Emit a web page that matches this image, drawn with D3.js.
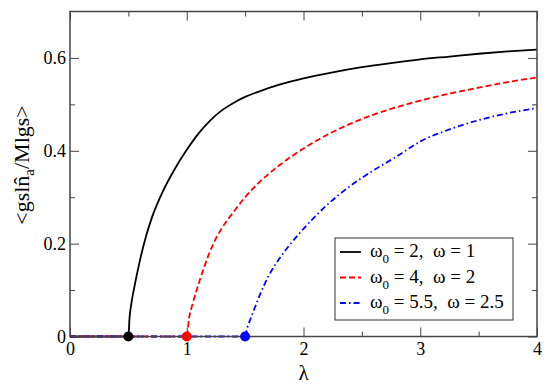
<!DOCTYPE html>
<html><head><meta charset="utf-8">
<script src="https://cdn.jsdelivr.net/npm/d3@7"></script>
<style>body{margin:0;background:#fff}svg{display:block}</style>
</head><body>
<script>
// ---- data ----
const lambdaBlack = [0, 0.5, 0.51, 0.525, 0.55, 0.6, 0.65, 0.7, 0.8, 0.9, 1.0, 1.1, 1.2, 1.3, 1.4, 1.5, 1.6, 1.8, 2.0, 2.25, 2.5, 2.75, 3.0, 3.25, 3.5, 3.75, 4.0];
const valueBlack  = [0, 0, 0.04, 0.07, 0.105, 0.165, 0.215, 0.255, 0.315, 0.362, 0.402, 0.437, 0.465, 0.487, 0.503, 0.516, 0.526, 0.543, 0.556, 0.569, 0.58, 0.589, 0.597, 0.603, 0.609, 0.614, 0.618];
const lambdaRed = [0, 1.0, 1.02, 1.05, 1.085, 1.15, 1.228, 1.3, 1.4, 1.5, 1.6, 1.8, 2.0, 2.2, 2.4, 2.6, 2.8, 3.0, 3.25, 3.5, 3.75, 4.0];
const valueRed  = [0, 0, 0.04, 0.07, 0.10, 0.15, 0.20, 0.233, 0.268, 0.30, 0.327, 0.37, 0.405, 0.434, 0.458, 0.478, 0.494, 0.508, 0.523, 0.536, 0.548, 0.558];
const lambdaBlue = [0, 1.5, 1.52, 1.542, 1.58, 1.627, 1.7, 1.8, 1.9, 2.0, 2.2, 2.4, 2.6, 2.8, 3.0, 3.25, 3.5, 3.75, 4.0];
const valueBlue  = [0, 0, 0.02, 0.035, 0.06, 0.09, 0.13, 0.17, 0.203, 0.232, 0.283, 0.324, 0.358, 0.388, 0.42, 0.446, 0.466, 0.481, 0.492];
const criticalLambda = [0.5, 1.0, 1.5];
const seriesNames = [["2", "1"], ["4", "2"], ["5.5", "2.5"]];
const xTicks = [0, 1, 2, 3, 4];
const yTicks = [0, 0.2, 0.4, 0.6];
const xMinor = [0.5, 1.5, 2.5, 3.5];
const yMinor = [0.1, 0.3, 0.5];

// ---- layout ----
const W = 550, H = 386;
const L = 70, R = 537, T = 11.5, B = 336.5;
const colors = ["#000000", "#ff0000", "#0000ff"];
const dashes = [null, "6,3", "6,3,1.5,3"];
const FONT = '"Liberation Serif"';

const svg = d3.select("body").append("svg").attr("width", W).attr("height", H);
const x = d3.scaleLinear().domain([0, 4]).range([L, R]);
const y = d3.scaleLinear().domain([0, 0.7]).range([B, T]);

const axisColor = "#444";
function styleAxis(g) {
  g.attr("font-family", null);
  g.select(".domain").remove();
  g.selectAll(".tick line").attr("stroke", axisColor).attr("stroke-width", 1);
  g.selectAll(".tick text").style("font-family", FONT).attr("font-size", 18).attr("fill", "#000");
}
svg.append("g").attr("transform", `translate(0,${B})`)
  .call(d3.axisBottom(x).tickValues(xTicks).tickSize(-9).tickPadding(6).tickFormat(d3.format("d")))
  .call(styleAxis);
svg.append("g").attr("transform", `translate(0,${B})`)
  .call(d3.axisBottom(x).tickValues(xMinor).tickSize(-5).tickFormat(""))
  .call(styleAxis);
svg.append("g").attr("transform", `translate(0,${T})`)
  .call(d3.axisTop(x).tickValues(xTicks).tickSize(-9).tickFormat(""))
  .call(styleAxis);
svg.append("g").attr("transform", `translate(0,${T})`)
  .call(d3.axisTop(x).tickValues(xMinor).tickSize(-5).tickFormat(""))
  .call(styleAxis);
svg.append("g").attr("transform", `translate(${L},0)`)
  .call(d3.axisLeft(y).tickValues(yTicks).tickSize(-9).tickPadding(4).tickFormat(d => d === 0 ? "0" : d3.format(".1f")(d)))
  .call(styleAxis);
svg.append("g").attr("transform", `translate(${L},0)`)
  .call(d3.axisLeft(y).tickValues(yMinor).tickSize(-5).tickFormat(""))
  .call(styleAxis);
svg.append("g").attr("transform", `translate(${R},0)`)
  .call(d3.axisRight(y).tickValues(yTicks).tickSize(-9).tickFormat(""))
  .call(styleAxis);
svg.append("g").attr("transform", `translate(${R},0)`)
  .call(d3.axisRight(y).tickValues(yMinor).tickSize(-5).tickFormat(""))
  .call(styleAxis);

// curves
const line = d3.line().x(d => x(d[0])).y(d => y(d[1])).curve(d3.curveMonotoneX);
const series = [
  d3.zip(lambdaBlack, valueBlack),
  d3.zip(lambdaRed, valueRed),
  d3.zip(lambdaBlue, valueBlue)
];
series.forEach((s, i) => {
  svg.append("path").datum(s).attr("d", line)
    .attr("fill", "none").attr("stroke", colors[i]).attr("stroke-width", 1.8)
    .attr("stroke-dasharray", dashes[i]);
});

// frame
svg.append("rect").attr("x", L).attr("y", T).attr("width", R - L).attr("height", B - T)
  .attr("fill", "none").attr("stroke", axisColor).attr("stroke-width", 1.5);

// critical dots
criticalLambda.forEach((c, i) => {
  svg.append("circle").attr("cx", x(c)).attr("cy", y(0)).attr("r", 5).attr("fill", colors[i]);
});

// legend
const lg = svg.append("g");
lg.append("rect").attr("x", 335).attr("y", 238).attr("width", 178).attr("height", 82)
  .attr("fill", "#fff").attr("stroke", "#333").attr("stroke-width", 1);
seriesNames.forEach((n, i) => {
  const yy = 252 + i * 25.5;
  lg.append("line").attr("x1", 340).attr("x2", 361).attr("y1", yy).attr("y2", yy)
    .attr("stroke", colors[i]).attr("stroke-width", 1.8).attr("stroke-dasharray", dashes[i]);
  const t = lg.append("text").attr("x", 370).attr("y", yy + 5).attr("font-size", 19).style("font-family", FONT);
  t.append("tspan").text("ω");
  t.append("tspan").attr("font-size", 13).attr("dy", 6).text("0");
  t.append("tspan").attr("dy", -6).text(` = ${n[0]},\u00a0\u00a0ω = ${n[1]}`);
});

// axis titles
svg.append("text").attr("x", x(2)).attr("y", 380).attr("text-anchor", "middle")
  .attr("font-size", 21).style("font-family", FONT).text("λ");
const yt = svg.append("text").attr("transform", `translate(29,165) rotate(-90)`)
  .attr("text-anchor", "middle").attr("font-size", 22).style("font-family", FONT);
yt.append("tspan").text("<gsl");
yt.append("tspan").text("n\u0302");
yt.append("tspan").attr("font-size", 15).attr("dy", 5).text("a");
yt.append("tspan").attr("dy", -5).text("/Mlgs>");
</script>
</body></html>
